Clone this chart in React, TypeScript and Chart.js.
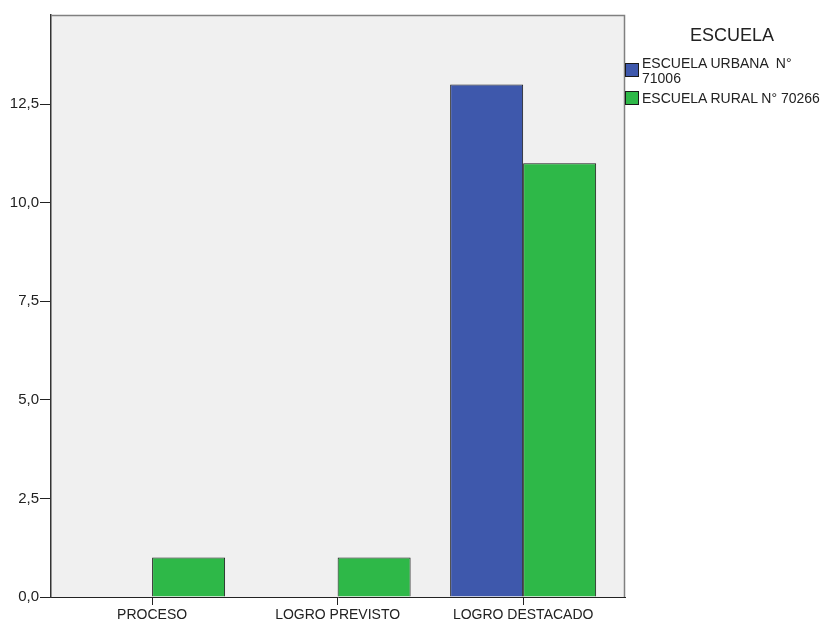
import React, { useEffect, useRef } from "react";
import { Chart, registerables } from "chart.js";

Chart.register(...registerables);

const categories = ["PROCESO", "LOGRO PREVISTO", "LOGRO DESTACADO"];
const urbanValues: (number | null)[] = [null, null, 13];
const ruralValues: (number | null)[] = [1, 1, 11];
const seriesLabels = ["ESCUELA URBANA  N° 71006", "ESCUELA RURAL N° 70266"];
const seriesColors = ["#3E58AC", "#2EB848"];
const yTicks = [0, 2.5, 5, 7.5, 10, 12.5];
const legendTitle = "ESCUELA";

const FONT = "'Liberation Sans', Arial, sans-serif";

const framePlugin = {
  id: "frame",
  beforeDraw(chart: any) {
    const { ctx, chartArea: a } = chart;
    ctx.save();
    ctx.fillStyle = "#F0F0F0";
    ctx.fillRect(a.left, a.top, a.right - a.left, a.bottom - a.top);
    ctx.restore();
  },
  afterDraw(chart: any) {
    const { ctx, chartArea: a } = chart;
    ctx.save();
    ctx.strokeStyle = "#808080";
    ctx.lineWidth = 1.5;
    ctx.beginPath();
    ctx.moveTo(a.left, a.top + 0.5);
    ctx.lineTo(a.right - 0.5, a.top + 0.5);
    ctx.lineTo(a.right - 0.5, a.bottom);
    ctx.stroke();
    ctx.restore();
  },
};

export default function App() {
  const ref = useRef<HTMLCanvasElement | null>(null);

  useEffect(() => {
    if (!ref.current) return;
    const toPoints = (vals: (number | null)[]) =>
      vals.map((v, i) => ({ x: i, y: v }));
    const chart = new Chart(ref.current, {
      type: "bar",
      data: {
        datasets: [
          {
            label: seriesLabels[0],
            data: toPoints(urbanValues) as any,
            backgroundColor: seriesColors[0],
            borderColor: "#1a1a1a",
            borderWidth: 1,
            categoryPercentage: 0.787,
            barPercentage: 1,
          },
          {
            label: seriesLabels[1],
            data: toPoints(ruralValues) as any,
            backgroundColor: seriesColors[1],
            borderColor: "#1a1a1a",
            borderWidth: 1,
            categoryPercentage: 0.787,
            barPercentage: 1,
          },
        ],
      },
      options: {
        responsive: false,
        animation: false,
        layout: { padding: { top: 15, right: 209, bottom: 0, left: 0 } },
        plugins: {
          legend: { display: false },
          tooltip: { enabled: false },
        },
        scales: {
          x: {
            type: "linear",
            min: -0.545,
            max: 2.549,
            offset: false,
            afterBuildTicks(scale: any) {
              scale.ticks = categories.map((_, i) => ({ value: i }));
            },
            afterFit(scale: any) {
              scale.height = 27;
            },
            grid: {
              display: true,
              offset: false,
              drawOnChartArea: false,
              drawTicks: true,
              tickLength: 8,
              color: "#222",
            },
            border: { display: true, color: "#222", width: 1 },
            ticks: {
              autoSkip: false,
              maxRotation: 0,
              padding: 2,
              color: "#222",
              font: { family: FONT, size: 14 },
              callback: (v: any) => categories[Math.round(Number(v))] ?? "",
            },
          },
          y: {
            type: "linear",
            min: 0,
            max: 14.76,
            afterBuildTicks(scale: any) {
              scale.ticks = yTicks.map((v) => ({ value: v }));
            },
            afterFit(scale: any) {
              scale.width = 51;
            },
            grid: {
              display: true,
              drawOnChartArea: false,
              drawTicks: true,
              tickLength: 11,
              color: "#222",
            },
            border: { display: true, color: "#333", width: 1.5 },
            ticks: {
              padding: 1,
              color: "#222",
              font: { family: FONT, size: 15 },
              callback: (v: any) => Number(v).toFixed(1).replace(".", ","),
            },
          },
        },
      },
      plugins: [framePlugin],
    });
    return () => chart.destroy();
  }, []);

  const legendTops = [56, 90.5];
  const swatchTops = [63, 91];

  return (
    <div
      style={{
        position: "absolute",
        left: 0,
        top: 0,
        width: 834,
        height: 624,
        background: "#fff",
        overflow: "hidden",
      }}
    >
      <canvas ref={ref} width={834} height={624} style={{ width: 834, height: 624, display: "block" }} />
      <div
        style={{
          position: "absolute",
          left: 632,
          top: 26,
          width: 200,
          textAlign: "center",
          fontFamily: FONT,
          fontSize: 18,
          lineHeight: "18px",
          color: "#222",
        }}
      >
        {legendTitle}
      </div>
      {seriesLabels.map((lab, i) => (
        <React.Fragment key={lab}>
          <div
            style={{
              position: "absolute",
              left: 625,
              top: swatchTops[i],
              width: 14,
              height: 14,
              boxSizing: "border-box",
              border: "1px solid #1a1a1a",
              background: seriesColors[i],
            }}
          />
          <div
            style={{
              position: "absolute",
              left: 642,
              top: legendTops[i],
              width: 186,
              whiteSpace: "pre-wrap",
              fontFamily: FONT,
              fontSize: 14,
              lineHeight: "15px",
              color: "#222",
            }}
          >
            {lab}
          </div>
        </React.Fragment>
      ))}
    </div>
  );
}
